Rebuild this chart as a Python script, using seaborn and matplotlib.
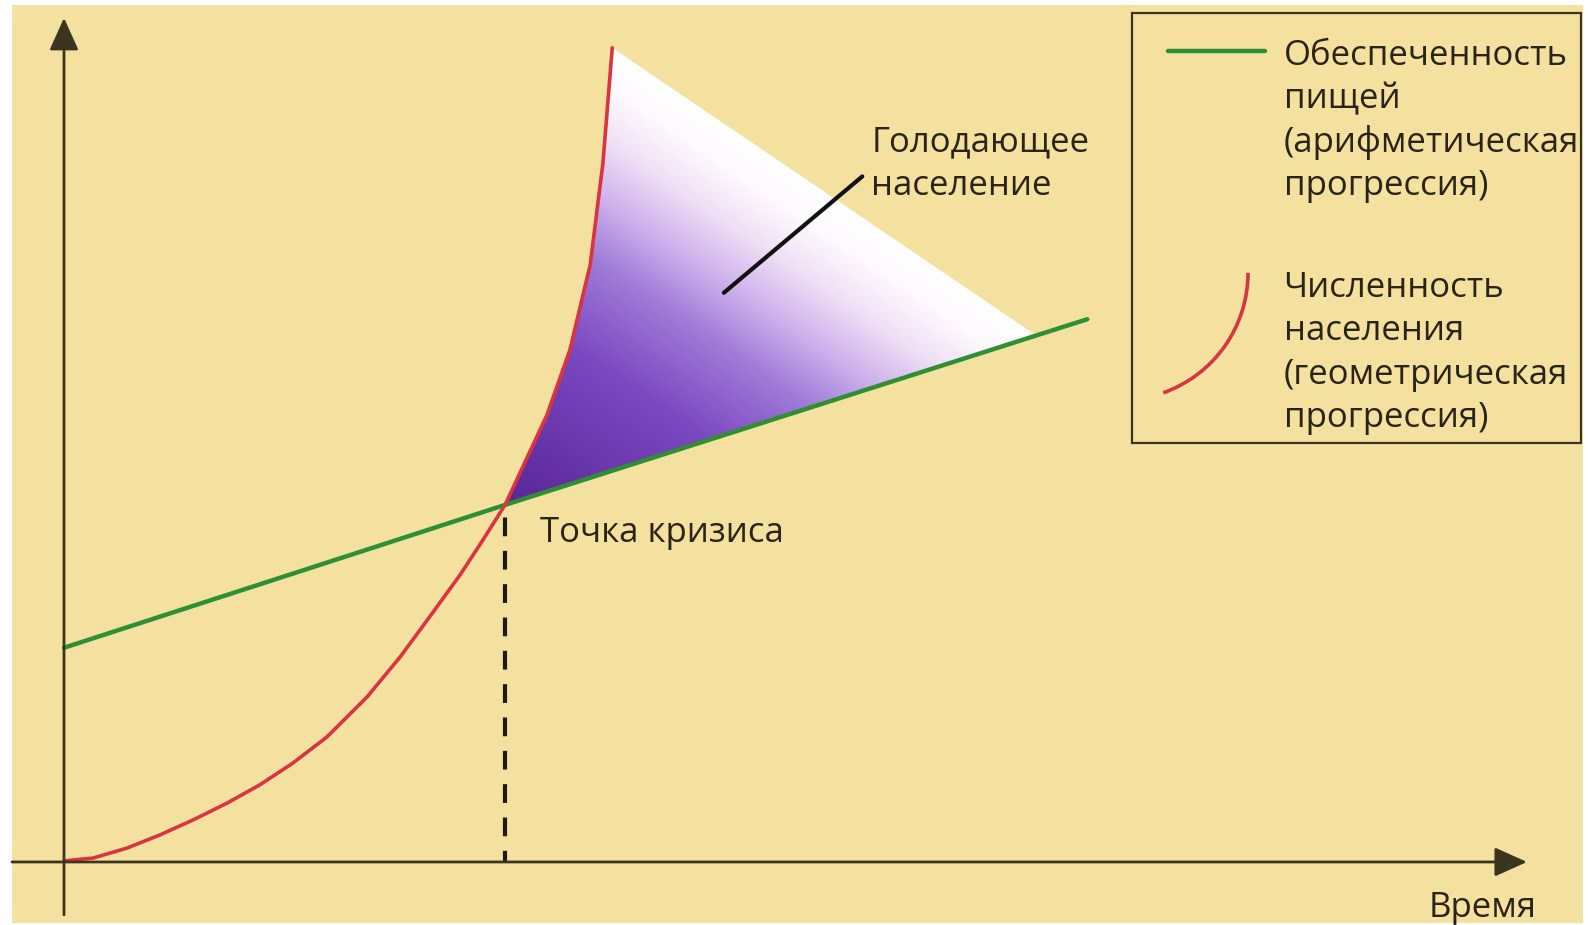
"""Malthus diagram: food supply vs population, drawn with seaborn/matplotlib."""

import numpy as np
import matplotlib
matplotlib.use('Agg')
import matplotlib.pyplot as plt
import seaborn as sns
from matplotlib.patches import Polygon, Rectangle, Arc
from matplotlib.colors import LinearSegmentedColormap

# Food supply (arithmetic progression)
food_t = [0.0, 10.0, 23.2]
food_v = [6.0, 10.0, 15.2]

# Population (geometric progression)
pop_t = [0.0, 0.66, 1.43, 2.18, 2.93, 3.70, 4.44, 5.19, 5.96, 6.87, 7.62,
         8.37, 8.98, 9.50, 10.0, 10.34, 10.95, 11.47, 11.93, 12.22, 12.43]
pop_v = [0.03, 0.11, 0.39, 0.76, 1.18, 1.65, 2.16, 2.77, 3.50, 4.62, 5.74,
         7.00, 8.04, 9.02, 10.0, 10.90, 12.52, 14.34, 16.72, 19.58, 22.80]

# Crisis point and the far corner of the "starving" wedge (on the food line)
crisis_t, crisis_v = 10.0, 10.0
hunger_apex_t, hunger_apex_v = 22.06, 14.73

hunger_label = ['Голодающее', 'население']
crisis_label = 'Точка кризиса'
time_label = 'Время'
legend_food = ['Обеспеченность', 'пищей', '(арифметическая', 'прогрессия)']
legend_pop = ['Численность', 'населения', '(геометрическая', 'прогрессия)']

# Colours
bg_c = '#f4e1a0'
axis_c = '#3b3520'
text_c = '#2a2416'
red_c = '#d9343f'
green_c = '#2f8f33'

sns.set_theme(style='white')
plt.rcParams['font.family'] = ['Open Sans', 'DejaVu Sans']

fig = plt.figure(figsize=(15.88, 9.25), dpi=100, facecolor='white')
# yellow page area inside a thin white scan border
ax = fig.add_axes([12 / 1588, 2 / 925, 1571 / 1588, 918 / 925])
ax.set_facecolor(bg_c)
xlim = (-1.179, 34.44)
ylim = (-1.709, 24.0)

# pixels per data unit (for the gradient distance)
sx = 1571 / (xlim[1] - xlim[0])
sy = 918 / (ylim[1] - ylim[0])

# --- starving population wedge with purple -> white gradient ---
i_crisis = pop_t.index(crisis_t)
wedge_pts = list(zip(pop_t[i_crisis:], pop_v[i_crisis:])) + [(hunger_apex_t, hunger_apex_v)]
wedge = Polygon(wedge_pts, closed=True, facecolor='none', edgecolor='none')
ax.add_patch(wedge)

tt, vv = np.meshgrid(np.linspace(9.5, 23.0, 500), np.linspace(9.5, 23.5, 500))
p0 = np.array([pop_t[-1] * sx, pop_v[-1] * sy])
p1 = np.array([hunger_apex_t * sx, hunger_apex_v * sy])
d = (p1 - p0) / np.hypot(*(p1 - p0))
dist = np.abs((tt * sx - p0[0]) * d[1] - (vv * sy - p0[1]) * d[0])
dmax = abs((crisis_t * sx - p0[0]) * d[1] - (crisis_v * sy - p0[1]) * d[0])
shade = np.clip(dist / dmax, 0, 1)
cmap = LinearSegmentedColormap.from_list(
    'hunger', [(0, '#ffffff'), (0.08, '#fdf9fd'), (0.18, '#efe0f5'),
               (0.30, '#cdb0ec'), (0.42, '#a07cd8'), (0.62, '#7a48c0'),
               (1, '#5a2698')])
im = ax.imshow(shade, extent=[9.5, 23.0, 9.5, 23.5], origin='lower', cmap=cmap,
               vmin=0, vmax=1, aspect='auto', interpolation='bilinear', zorder=1)
im.set_clip_path(wedge)

# --- the two curves ---
sns.lineplot(x=food_t, y=food_v, color=green_c, lw=3.2, ax=ax, zorder=4)
sns.lineplot(x=pop_t, y=pop_v, color=red_c, lw=2.6, sort=False, estimator=None,
             ax=ax, zorder=4)

# crisis drop line
ax.plot([crisis_t, crisis_t], [crisis_v, 0], color='#1f1a0e', lw=3.0,
        ls=(5.0, (4.5, 3.5)), zorder=3)

# axes with arrow heads
arrow_kw = dict(arrowstyle='-|>,head_length=1.0,head_width=0.45', color=axis_c,
                lw=2.0, shrinkA=0, shrinkB=0, mutation_scale=20)
ax.annotate('', xy=(0, 23.64), xytext=(0, -1.48), arrowprops=arrow_kw, zorder=5)
ax.annotate('', xy=(33.17, 0), xytext=(xlim[0], 0), arrowprops=arrow_kw, zorder=5)

# pointer to the wedge
ax.plot([14.96, 18.10], [15.94, 19.20], color='#111111', lw=3.0,
        solid_capstyle='round', zorder=5)

fs = 25
line_step = 43.5 / sy
for i, s in enumerate(hunger_label):
    ax.text(18.30, 19.90 - i * line_step, s, fontsize=fs, color=text_c,
            va='baseline', ha='left', zorder=6)
ax.text(10.80, 8.97, crisis_label, fontsize=fs, color=text_c,
        va='baseline', ha='left', zorder=6)
ax.text(30.95, -1.53, time_label, fontsize=fs, color=text_c,
        va='baseline', ha='left', zorder=6)

# --- hand-drawn legend box ---
ax.add_patch(Rectangle((24.22, 11.74), 34.40 - 24.22, 23.78 - 11.74,
                       facecolor='none', edgecolor=axis_c, lw=1.6, zorder=5))
ax.plot([25.03, 27.23], [22.72, 22.72], color=green_c, lw=3.2, zorder=6)
ax.add_patch(Arc((23.96, 16.50), 5.77, 7.13, theta1=-74, theta2=0,
                 color=red_c, lw=2.6, zorder=6))
for i, s in enumerate(legend_food):
    ax.text(27.65, 22.32 - i * line_step, s, fontsize=fs, color=text_c,
            va='baseline', ha='left', zorder=6)
for i, s in enumerate(legend_pop):
    ax.text(27.65, 15.83 - i * line_step, s, fontsize=fs, color=text_c,
            va='baseline', ha='left', zorder=6)

ax.set_xlim(*xlim)
ax.set_ylim(*ylim)
ax.set_xticks([])
ax.set_yticks([])
ax.set_xlabel('')
ax.set_ylabel('')
for sp in ax.spines.values():
    sp.set_visible(False)

fig.savefig('out.png', dpi=100, facecolor='white')
